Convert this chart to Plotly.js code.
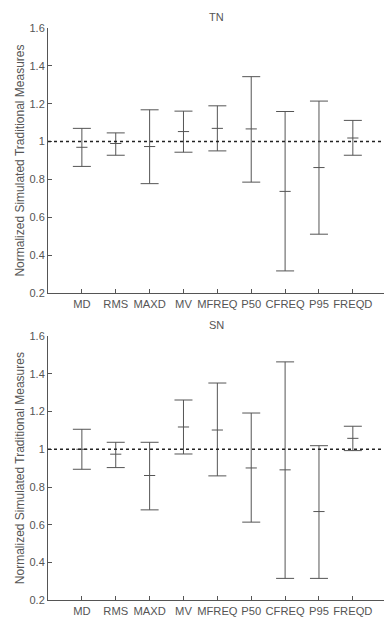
<!DOCTYPE html>
<html>
<head>
<meta charset="utf-8">
<script src="https://cdn.plot.ly/plotly-3.0.1.min.js"></script>
<style>html,body{margin:0;padding:0;background:#fff;}#chart{width:384px;height:617px;}</style>
</head>
<body>
<div id="chart"></div>
<script>
const categories = ["MD","RMS","MAXD","MV","MFREQ","P50","CFREQ","P95","FREQD"];
const positions = [1,2,3,4,5,6,7,8,9];

const tnMean  = [0.970, 0.990, 0.974, 1.053, 1.070, 1.067, 0.737, 0.863, 1.019];
const tnUpper = [1.070, 1.046, 1.168, 1.161, 1.189, 1.343, 1.159, 1.214, 1.112];
const tnLower = [0.869, 0.928, 0.778, 0.944, 0.951, 0.786, 0.317, 0.511, 0.928];

const snMean  = [1.000, 0.974, 0.861, 1.118, 1.102, 0.901, 0.891, 0.670, 1.058];
const snUpper = [1.106, 1.037, 1.037, 1.261, 1.351, 1.192, 1.463, 1.019, 1.122];
const snLower = [0.894, 0.903, 0.679, 0.975, 0.859, 0.614, 0.316, 0.316, 0.993];

const yTicks = [0.2, 0.4, 0.6, 0.8, 1, 1.2, 1.4, 1.6];
const yTickText = ["0.2","0.4","0.6","0.8","1","1.2","1.4","1.6"];
const refValue = 1;

const lineCol = "#555555";
const textCol = "#555555";
const fam = "Liberation Sans, Arial, sans-serif";

function mkTrace(mean, up, lo, xa, ya) {
  return {
    x: positions, y: mean, xaxis: xa, yaxis: ya,
    type: "scatter", mode: "markers",
    marker: {symbol: "line-ew", size: 8, line: {width: 1, color: lineCol}, color: lineCol},
    error_y: {
      type: "data", symmetric: false,
      array: up.map((u, i) => u - mean[i]),
      arrayminus: lo.map((l, i) => mean[i] - l),
      color: lineCol, thickness: 1, width: 9
    },
    showlegend: false, hoverinfo: "skip"
  };
}

const data = [
  mkTrace(tnMean, tnUpper, tnLower, "x", "y"),
  mkTrace(snMean, snUpper, snLower, "x2", "y2")
];

const xCommon = {
  range: [0, 9.92], tickvals: positions, ticktext: categories,
  ticks: "inside", ticklen: 4, tickcolor: lineCol,
  showline: true, linecolor: lineCol, linewidth: 1,
  showgrid: false, zeroline: false, fixedrange: true,
  tickfont: {family: fam, size: 11.2, color: textCol}
};
const yCommon = {
  range: [0.2, 1.6], tickvals: yTicks, ticktext: yTickText,
  ticks: "inside", ticklen: 4, tickcolor: lineCol,
  showline: true, linecolor: lineCol, linewidth: 1,
  showgrid: false, zeroline: false, fixedrange: true,
  tickfont: {family: fam, size: 11, color: textCol},
  title: {text: "Normalized Simulated Traditional Measures", standoff: 2,
          font: {family: fam, size: 12, color: textCol}}
};

const layout = {
  width: 384, height: 617,
  margin: {l: 0, r: 0, t: 0, b: 0},
  paper_bgcolor: "#ffffff", plot_bgcolor: "#ffffff",
  xaxis: Object.assign({}, xCommon, {domain: [0.125, 1], anchor: "y"}),
  yaxis: Object.assign({}, yCommon, {domain: [0.525, 0.9546], anchor: "x"}),
  xaxis2: Object.assign({}, xCommon, {domain: [0.125, 1], anchor: "y2"}),
  yaxis2: Object.assign({}, yCommon, {domain: [0.0271, 0.4554], anchor: "x2"}),
  shapes: [
    {type: "line", xref: "x domain", yref: "y", x0: 0, x1: 1, y0: refValue, y1: refValue,
     line: {color: "#222222", width: 1.5, dash: "dot"}},
    {type: "line", xref: "x2 domain", yref: "y2", x0: 0, x1: 1, y0: refValue, y1: refValue,
     line: {color: "#222222", width: 1.5, dash: "dot"}}
  ],
  annotations: [
    {text: "TN", xref: "x domain", yref: "y domain", x: 0.5, y: 1, yshift: 11, showarrow: false,
     xanchor: "center", yanchor: "middle",
     font: {family: fam, size: 11, color: textCol}},
    {text: "SN", xref: "x2 domain", yref: "y2 domain", x: 0.5, y: 1, yshift: 11, showarrow: false,
     xanchor: "center", yanchor: "middle",
     font: {family: fam, size: 11, color: textCol}}
  ]
};

Plotly.newPlot("chart", data, layout, {staticPlot: true, displayModeBar: false});
</script>
</body>
</html>
